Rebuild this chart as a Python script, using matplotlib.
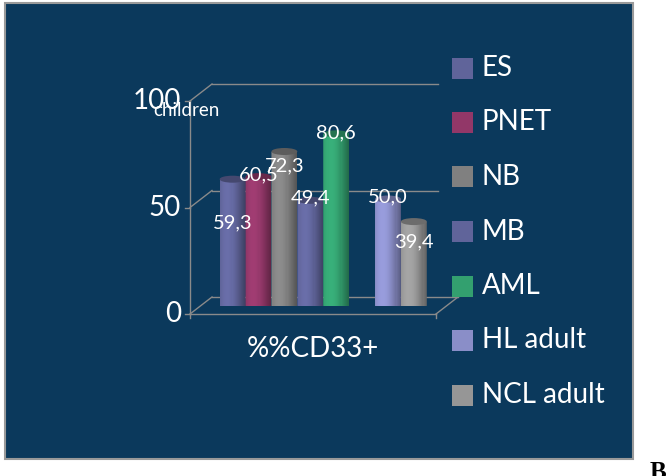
import matplotlib
matplotlib.use("Agg")
import matplotlib.pyplot as plt
import matplotlib.colors as mcolors
from matplotlib import patches
import numpy as np

# ---------------- data ----------------
categories = ["ES", "PNET", "NB", "MB", "AML", "HL adult", "NCL adult"]
values = [59.3, 60.5, 72.3, 49.4, 80.6, 50.0, 39.4]
value_labels = ["59,3", "60,5", "72,3", "49,4", "80,6", "50,0", "39,4"]
groups = ["children"] * 5 + ["adult"] * 2
colors = ["#60649a", "#923768", "#808080", "#60649a", "#33a06f", "#8a8ec8", "#969696"]
yticks = [0, 50, 100]
ytick_labels = ["0", "50", "100"]
xlabel = "%%CD33+"
group_title = "children"
# style: vertical shift of each value label (data units)
label_offsets = [-20.6, 0.8, -6.8, 1.1, 0.4, 1.0, -9.6]

# ---------------- figure ----------------
W, H, DPI = 669, 476, 100
plt.rcParams['font.family'] = ['Lato', 'DejaVu Sans']
fig = plt.figure(figsize=(W / DPI, H / DPI), dpi=DPI)
fig.patch.set_facecolor("white")


def fx(px):
    return px / W


def fy(py):
    return 1 - py / H


BG = "#0b395c"
LINE = "#8a8a8a"
panel = patches.Rectangle((fx(5), fy(459)), fx(633) - fx(5), fy(3) - fy(459),
                          transform=fig.transFigure, facecolor=BG,
                          edgecolor="#9a9a9a", linewidth=1.5, zorder=-5)
fig.patches.append(panel)

# axes = middle depth plane of the 3D box
ax = fig.add_axes([fx(201), fy(305.5), fx(447) - fx(201), 213 / H])
ax.set_zorder(1)
ax.set_facecolor("none")
for s in ax.spines.values():
    s.set_visible(False)
ax.set_xticks([])
ax.set_yticks([])

# category positions with a gap between groups
pos = []
xcur = 0
prev = groups[0]
for g in groups:
    if g != prev:
        xcur += 1
        prev = g
    pos.append(xcur)
    xcur += 1

x0, x1 = -1.22, 8.28
ax.set_xlim(x0, x1)
ax.set_ylim(0, 100)

px_x = (447 - 201) / (x1 - x0)   # pixels per x unit
px_y = 213 / 100.0               # pixels per y unit
dx = 11 / px_x                   # half depth offset in data units
dy = 8.5 / px_y

lkw = dict(color=LINE, lw=1.0, clip_on=False, zorder=1)
# floor
ax.plot([x0 - dx, x1 - dx], [-dy, -dy], **lkw)
ax.plot([x0 + dx, x1 + dx], [dy, dy], **lkw)
ax.plot([x1 - dx, x1 + dx], [-dy, dy], **lkw)
# front vertical axis
ax.plot([x0 - dx, x0 - dx], [-dy, yticks[-1] - dy], **lkw)
xg = x0 + (438 - 201) / px_x
for yv, lab in zip(yticks, ytick_labels):
    ax.plot([x0 - dx, x0 + dx], [yv - dy, yv + dy], **lkw)
    ax.plot([x0 - dx - 5 / px_x, x0 - dx], [yv - dy, yv - dy], **lkw)
    if yv > 0:
        ax.plot([x0 + dx, xg], [yv + dy, yv + dy], **lkw)
    ax.text(x0 - dx - 9 / px_x, yv - dy, lab, ha="right", va="center",
            fontsize=20, color="white", clip_on=False, zorder=6)
for xv in (x0 - dx, x1 - dx):
    ax.plot([xv, xv], [-dy, -dy - 4 / px_y], **lkw)


def shade(color, f):
    r, g, b = mcolors.to_rgb(color)
    return tuple(np.clip([r * f, g * f, b * f], 0, 1))


w = 1.0
eh = 7 / px_y
nstrip = 24
for i, (p, v, c) in enumerate(zip(pos, values, colors)):
    z = 2 + i * 0.05
    th = np.linspace(np.pi, 2 * np.pi, 40)
    poly = [(p + w / 2 * np.cos(t), eh / 2 * np.sin(t)) for t in th]
    poly += [(p + w / 2, v), (p - w / 2, v)]
    clip = patches.Polygon(poly, closed=True, transform=ax.transData)
    sw = w / nstrip
    for k in range(nstrip):
        t = (k + 0.5) / nstrip
        f = 0.82 + 0.28 * np.cos(np.pi * (t - 0.3))
        b = ax.bar(p - w / 2 + (k + 0.5) * sw, v + eh, width=sw * 1.08,
                   bottom=-eh, color=shade(c, f), linewidth=0, zorder=z)
        for r in b:
            r.set_clip_path(clip)
    cap = patches.Ellipse((p, v), w, eh, facecolor=shade(c, 0.72),
                          edgecolor="none", zorder=z + 0.01, clip_on=False)
    ax.add_patch(cap)

for p, v, lab, off in zip(pos, values, value_labels, label_offsets):
    ax.text(p, v + off, lab, ha="center", va="center", fontsize=14.5,
            color="white", zorder=10, clip_on=False)

# texts
fig.text(fx(153), fy(110), group_title, ha="left", va="center",
         fontsize=13.5, color="white", zorder=7)
fig.text(fx(313), fy(349), xlabel, ha="center", va="center",
         fontsize=20, color="white")

# legend
for i, (c, lab) in enumerate(zip(colors, categories)):
    yc = 68 + i * 54.5
    rect = patches.Rectangle((fx(452), fy(yc + 10.5)), 21 / W, 21 / H,
                             transform=fig.transFigure, facecolor=c,
                             edgecolor="none", zorder=3)
    fig.patches.append(rect)
    fig.text(fx(482), fy(yc), lab, ha="left", va="center", fontsize=20,
             color="white")

fig.text(fx(650), fy(479), "B", ha="left", va="baseline", fontsize=18,
         fontweight="bold", family="Liberation Serif", color="black")

fig.savefig("out.png", dpi=DPI, facecolor=fig.get_facecolor())
